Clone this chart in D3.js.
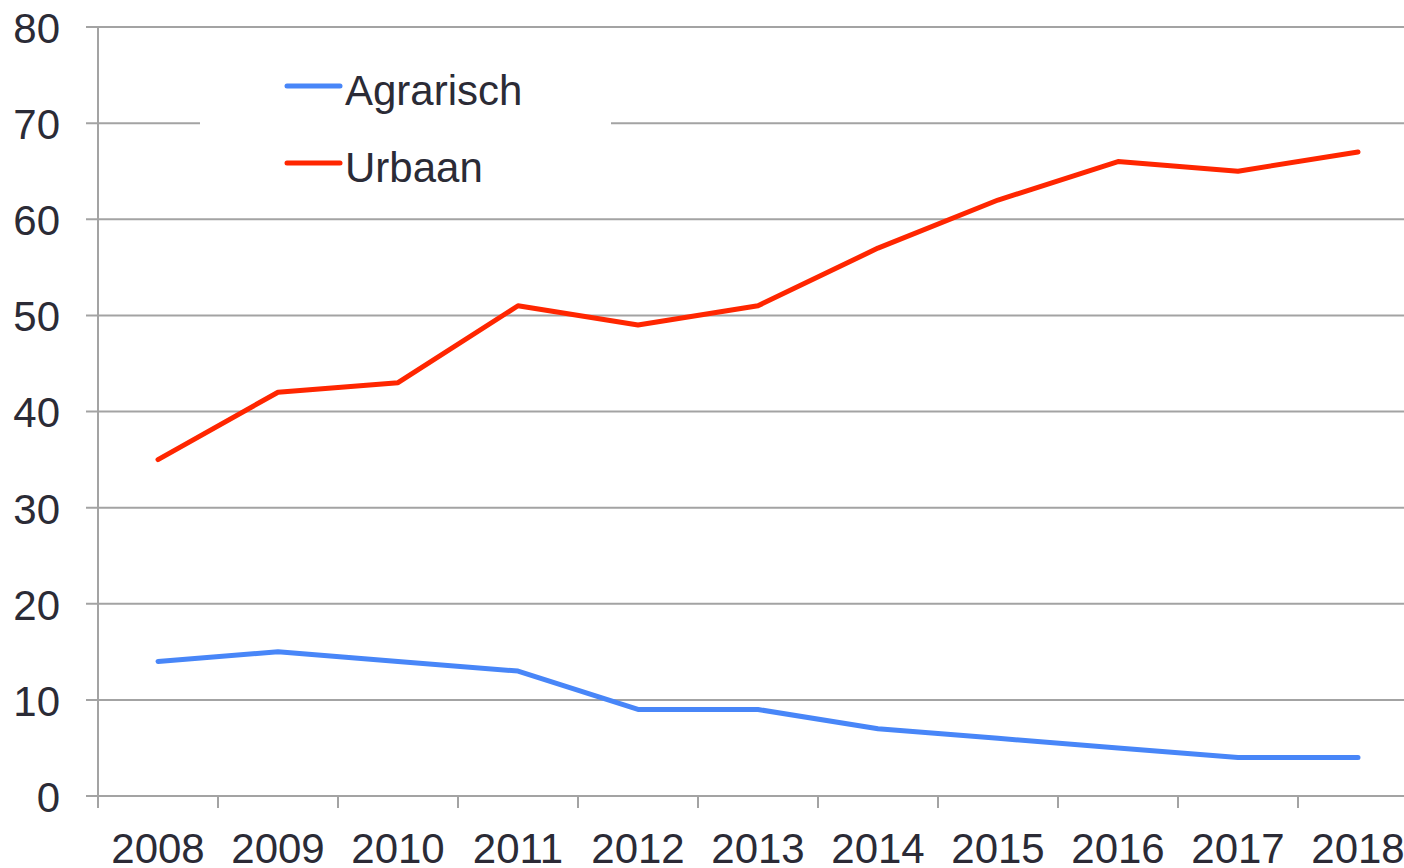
<!DOCTYPE html>
<html>
<head>
<meta charset="utf-8">
<script src="https://cdn.jsdelivr.net/npm/d3@7"></script>
<style>
  body { margin: 0; background: #fff; }
  svg { display: block; }
  text { font-family: "Liberation Sans", Arial, sans-serif; fill: #2b2b36; }
</style>
</head>
<body>
<script>
const width = 1404;
const height = 868;

const jaren = ["2008", "2009", "2010", "2011", "2012", "2013", "2014", "2015", "2016", "2017", "2018"];
const agrarisch = [14, 15, 14, 13, 9, 9, 7, 6, 5, 4, 4];
const urbaan = [35, 42, 43, 51, 49, 51, 57, 62, 66, 65, 67];
const yTicks = [0, 10, 20, 30, 40, 50, 60, 70, 80];

const reeksen = [
  { naam: "Agrarisch", waarden: agrarisch, kleur: "#4886f8" },
  { naam: "Urbaan", waarden: urbaan, kleur: "#ff2600" }
];

const svg = d3
  .select("body")
  .append("svg")
  .attr("width", width)
  .attr("height", height);

const x = d3.scaleBand().domain(jaren).range([98, 1418]);
const y = d3.scaleLinear().domain([0, 80]).range([796, 27]);

const gridKleur = "#a3a3a3";

// horizontale rasterlijnen
svg
  .selectAll("line.grid")
  .data(yTicks)
  .enter()
  .append("line")
  .attr("class", "grid")
  .attr("x1", 86)
  .attr("x2", width)
  .attr("y1", (d) => y(d))
  .attr("y2", (d) => y(d))
  .attr("stroke", gridKleur)
  .attr("stroke-width", 2);

// y-as
svg
  .append("line")
  .attr("x1", 98)
  .attr("x2", 98)
  .attr("y1", y(80))
  .attr("y2", 808)
  .attr("stroke", gridKleur)
  .attr("stroke-width", 2);

svg
  .selectAll("text.ylabel")
  .data(yTicks)
  .enter()
  .append("text")
  .attr("class", "ylabel")
  .attr("x", 60)
  .attr("y", (d) => y(d))
  .attr("dy", "0.38em")
  .attr("text-anchor", "end")
  .attr("font-size", 42)
  .text((d) => d);

// x-as tickjes
const xTickPos = jaren.map((j) => x(j)).concat([x(jaren[jaren.length - 1]) + x.bandwidth()]);
svg
  .selectAll("line.xtick")
  .data(xTickPos)
  .enter()
  .append("line")
  .attr("class", "xtick")
  .attr("x1", (d) => d)
  .attr("x2", (d) => d)
  .attr("y1", y(0))
  .attr("y2", 808)
  .attr("stroke", gridKleur)
  .attr("stroke-width", 2);

svg
  .selectAll("text.xlabel")
  .data(jaren)
  .enter()
  .append("text")
  .attr("class", "xlabel")
  .attr("x", (d) => x(d) + x.bandwidth() / 2)
  .attr("y", 863)
  .attr("text-anchor", "middle")
  .attr("font-size", 42)
  .text((d) => d);

// legenda (witte achtergrond over rasterlijn)
svg
  .append("rect")
  .attr("x", 200)
  .attr("y", 55)
  .attr("width", 411)
  .attr("height", 140)
  .attr("fill", "#fff");

const lijn = d3
  .line()
  .x((d, i) => x(jaren[i]) + x.bandwidth() / 2)
  .y((d) => y(d));

svg
  .selectAll("path.reeks")
  .data(reeksen)
  .enter()
  .append("path")
  .attr("class", "reeks")
  .attr("d", (r) => lijn(r.waarden))
  .attr("fill", "none")
  .attr("stroke", (r) => r.kleur)
  .attr("stroke-width", 5)
  .attr("stroke-linejoin", "round")
  .attr("stroke-linecap", "round");

const legenda = svg
  .selectAll("g.legenda")
  .data(reeksen)
  .enter()
  .append("g")
  .attr("class", "legenda")
  .attr("transform", (r, i) => `translate(0, ${86 + i * 77})`);

legenda
  .append("line")
  .attr("x1", 287)
  .attr("x2", 340)
  .attr("stroke", (r) => r.kleur)
  .attr("stroke-width", 5)
  .attr("stroke-linecap", "round");

legenda
  .append("text")
  .attr("x", 345)
  .attr("y", 19)
  .attr("font-size", 42)
  .text((r) => r.naam);
</script>
</body>
</html>
